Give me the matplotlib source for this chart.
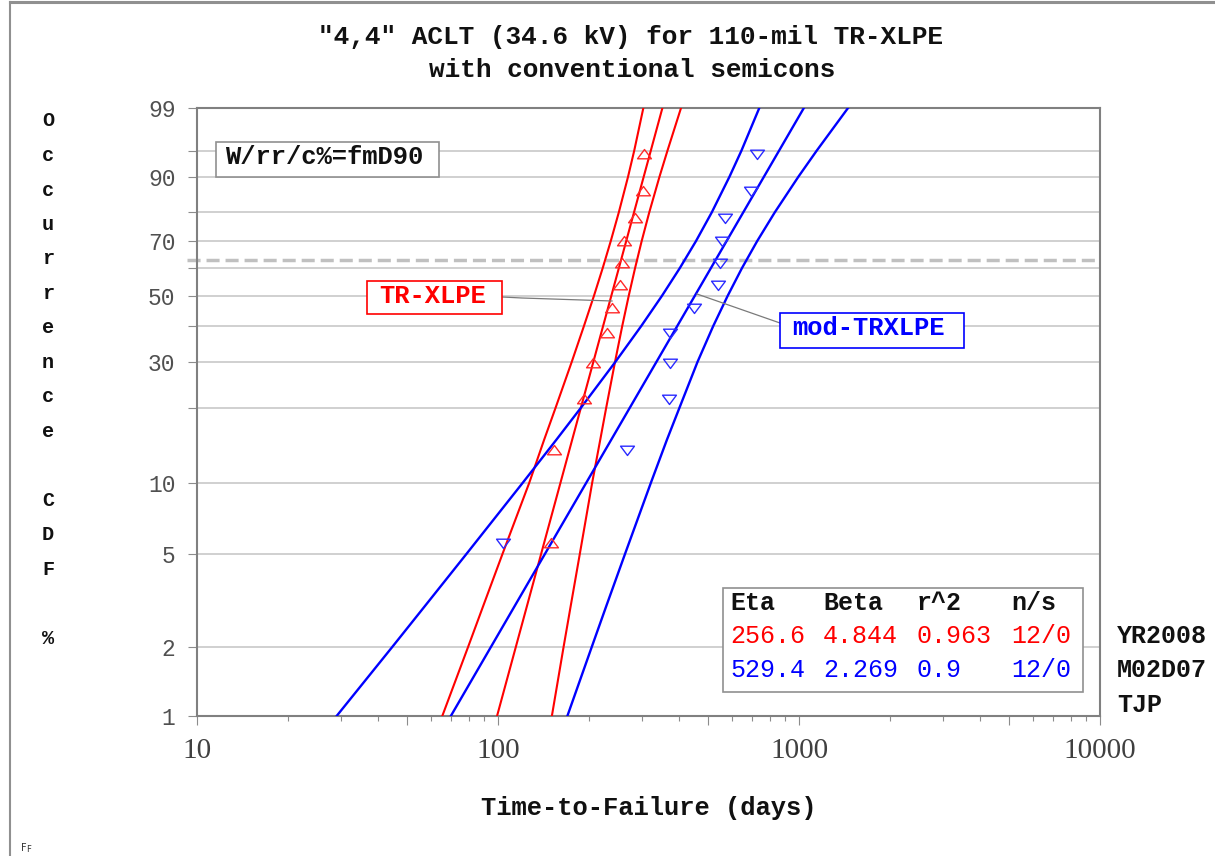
import numpy as np
import matplotlib
matplotlib.use('Agg')
import matplotlib.pyplot as plt
from matplotlib.ticker import FixedLocator, FixedFormatter, NullLocator, NullFormatter
from matplotlib.patches import Rectangle
from matplotlib.lines import Line2D
from matplotlib.path import Path

# ---------------- data ----------------
title_lines = ['"4,4" ACLT (34.6 kV) for 110-mil TR-XLPE', 'with conventional semicons']
x_label = 'Time-to-Failure (days)'
y_label_text = 'Occurrence CDF %'

x_major = [10, 50, 100, 500, 1000, 5000, 10000]
x_major_labels = ['10', '', '100', '', '1000', '', '10000']
x_minor = [20, 30, 40, 60, 70, 80, 90, 200, 300, 400, 600, 700, 800, 900,
           2000, 3000, 4000, 6000, 7000, 8000, 9000]
y_grid = [1, 2, 5, 10, 20, 30, 40, 50, 60, 70, 80, 90, 95, 99]
y_labeled = [1, 2, 5, 10, 30, 50, 70, 90, 99]
char_life_pct = 63.21

series_names = ['TR-XLPE', 'mod-TRXLPE']
rank_pct = [5.6, 13.7, 21.8, 29.8, 37.9, 46.0, 54.0, 62.1, 70.2, 78.2, 86.3, 94.4]
tr_xlpe_days = [150.0, 153.8, 193.5, 207.4, 230.7, 238.6, 254.2, 257.6, 262.8, 285.2, 303.9, 306.2]
mod_days = [104.1, 268.9, 369.9, 372.7, 372.7, 447.9, 539.6, 546.6, 553.7, 567.9, 692.6, 727.0]

eta_tr, beta_tr, r2_tr, ns_tr = 256.6, 4.844, '0.963', '12/0'
eta_mod, beta_mod, r2_mod, ns_mod = 529.4, 2.269, '0.9', '12/0'

bound_pct = [1, 2, 3, 5, 10, 15, 20, 30, 40, 50, 60, 70, 80, 90, 95, 99]
tr_lower = [65.3, 79.6, 89.3, 103.4, 127.0, 142.3, 155.1, 175.8, 192.9, 208.3, 222.7, 236.9, 252.0, 270.4, 283.5, 304.0]
tr_upper = [151.0, 165.2, 174.4, 186.9, 205.5, 218.6, 228.6, 244.8, 258.6, 271.8, 285.3, 300.1, 318.1, 343.9, 365.6, 405.5]
mod_lower = [29.1, 44.6, 57.2, 78.4, 120.8, 156.2, 187.9, 245.5, 298.9, 350.4, 401.6, 454.7, 513.2, 587.4, 643.8, 738.0]
mod_upper = [170.0, 205.0, 229.0, 264.0, 322.0, 364.0, 400.0, 460.2, 518.6, 579.3, 646.1, 726.1, 831.0, 995.0, 1145.0, 1455.0]

stamp = ['YR2008', 'M02D07', 'TJP']
method_label = 'W/rr/c%=fmD90'

# ---------------- layout ----------------
W, H, DPI = 1215, 856, 100
RED, BLUE = '#ff0000', '#0000ff'
GRAY = '#8c8c8c'
MONO = 'Liberation Mono'
plt.rcParams['lines.scale_dashes'] = False

def fx(x):
    return x / W

def fy(y):
    return 1 - y / H

fig = plt.figure(figsize=(W / DPI, H / DPI), dpi=DPI, facecolor='white')
ax_l, ax_r, ax_t, ax_b = 197, 1100, 108, 716
ax = fig.add_axes([fx(ax_l), fy(ax_b), (ax_r - ax_l) / W, (ax_b - ax_t) / H])


def fwd(p):
    p = np.clip(np.asarray(p, dtype=float), 1e-9, 100 - 1e-9)
    return np.log(-np.log(1 - p / 100.0))


def inv(y):
    return 100.0 * (1 - np.exp(-np.exp(np.asarray(y, dtype=float))))


ax.set_xscale('log')
ax.set_yscale('function', functions=(fwd, inv))
ax.set_xlim(10, 10000)
ax.set_ylim(1, 99)

# ticks
ax.xaxis.set_major_locator(FixedLocator(x_major))
ax.xaxis.set_major_formatter(FixedFormatter(x_major_labels))
ax.xaxis.set_minor_locator(FixedLocator(x_minor))
ax.xaxis.set_minor_formatter(NullFormatter())
ax.yaxis.set_major_locator(FixedLocator(y_grid))
ax.yaxis.set_major_formatter(FixedFormatter([str(v) if v in y_labeled else '' for v in y_grid]))
ax.yaxis.set_minor_locator(NullLocator())

ax.tick_params(axis='x', which='major', length=6.5, width=0.8, color=GRAY, pad=9,
               labelsize=21, labelcolor='#404040')
ax.tick_params(axis='x', which='minor', length=3.6, width=0.8, color=GRAY)
ax.tick_params(axis='y', which='major', length=6.5, width=0.8, color=GRAY, pad=9,
               labelsize=16.5, labelcolor='#505050')
for lab in ax.get_xticklabels():
    lab.set_fontfamily('Liberation Serif')
for lab in ax.get_yticklabels():
    lab.set_fontfamily(MONO)

ax.grid(axis='y', color='#c8c8c8', lw=1.2)
ax.grid(axis='x', visible=False)
ax.set_axisbelow(True)
for s in ax.spines.values():
    s.set_color('#808080')
    s.set_linewidth(1.5)

# characteristic-life dashed line
ax.axhline(char_life_pct, xmin=-0.011, xmax=1.0, clip_on=False, color='#c0c0c0',
           lw=2.5, dashes=(9.4, 4.3), zorder=1.5)

# fitted Weibull lines and confidence bounds
def weibull_t(eta, beta, pct):
    p = np.asarray(pct, dtype=float) / 100.0
    return eta * (-np.log(1 - p)) ** (1.0 / beta)

ax.plot(weibull_t(eta_tr, beta_tr, bound_pct), bound_pct, color=RED, lw=1.5, zorder=3)
ax.plot(tr_lower, bound_pct, color=RED, lw=1.5, zorder=3)
ax.plot(tr_upper, bound_pct, color=RED, lw=1.5, zorder=3)
ax.plot(weibull_t(eta_mod, beta_mod, bound_pct), bound_pct, color=BLUE, lw=1.7, zorder=3)
ax.plot(mod_lower, bound_pct, color=BLUE, lw=1.7, zorder=3)
ax.plot(mod_upper, bound_pct, color=BLUE, lw=1.7, zorder=3)

up_tri = Path([(-1, -0.62), (1, -0.62), (0, 0.72), (-1, -0.62)],
              [Path.MOVETO, Path.LINETO, Path.LINETO, Path.CLOSEPOLY])
dn_tri = Path([(-1, 0.62), (1, 0.62), (0, -0.72), (-1, 0.62)],
              [Path.MOVETO, Path.LINETO, Path.LINETO, Path.CLOSEPOLY])
ax.plot(tr_xlpe_days, rank_pct, ls='none', marker=up_tri, ms=10, mfc='none',
        mec='#ff2a2a', mew=1.0, zorder=4)
ax.plot(mod_days, rank_pct, ls='none', marker=dn_tri, ms=10, mfc='none',
        mec='#2a2aff', mew=1.0, zorder=4)

# ---------------- figure decorations ----------------
fig.add_artist(Line2D([fx(10), fx(W)], [fy(2), fy(2)], color='#909090', lw=2.2))
fig.add_artist(Line2D([fx(10), fx(10)], [fy(2), fy(H)], color='#909090', lw=1.5))

fig.text(fx(630), fy(37), title_lines[0], ha='center', va='center', fontsize=18.8,
         fontweight='bold', family=MONO, color='#111111')
fig.text(fx(632), fy(70), title_lines[1], ha='center', va='center', fontsize=18.8,
         fontweight='bold', family=MONO, color='#111111')
fig.text(fx(649), fy(808), x_label, ha='center', va='center', fontsize=18.4,
         fontweight='bold', family=MONO, color='#111111')

# vertical stacked y label
letters = list(y_label_text)
for i, ch in enumerate(letters):
    if ch == ' ':
        continue
    fig.text(fx(48), fy(121 + i * 34.5), ch, ha='center', va='center', fontsize=14.5,
             fontweight='bold', family=MONO, color='#111111')

def box(x0, y0, x1, y1, ec, lw=1.2):
    fig.add_artist(Rectangle((fx(x0), fy(y1)), (x1 - x0) / W, (y1 - y0) / H,
                             transform=fig.transFigure, facecolor='white',
                             edgecolor=ec, lw=lw, zorder=5))

# method box
box(216, 142, 439, 177, '#909090')
fig.text(fx(225), fy(157), method_label, ha='left', va='center', fontsize=18.4,
         fontweight='bold', family=MONO, color='#111111', zorder=6)

# series label boxes + leaders
fig.add_artist(Line2D([fx(502), fx(522), fx(612)], [fy(297), fy(298), fy(301)],
                      color='#7a7a7a', lw=0.9, zorder=4))
box(367, 281, 502, 314, RED)
fig.text(fx(433), fy(296), series_names[0], ha='center', va='center', fontsize=18.4,
         fontweight='bold', family=MONO, color=RED, zorder=6)

fig.add_artist(Line2D([fx(780), fx(697)], [fy(323), fy(294)],
                      color='#7a7a7a', lw=0.9, zorder=4))
box(780, 313, 964, 348, BLUE)
fig.text(fx(868), fy(328), series_names[1], ha='center', va='center', fontsize=18.4,
         fontweight='bold', family=MONO, color=BLUE, zorder=6)

# stats box
box(723, 588, 1083, 692, '#909090')
cols = [730, 823, 917, 1011]
rows = [603, 636, 670]
header = ['Eta', 'Beta', 'r^2', 'n/s']
row_tr = [f'{eta_tr:.1f}', f'{beta_tr:.3f}', r2_tr, ns_tr]
row_mod = [f'{eta_mod:.1f}', f'{beta_mod:.3f}', r2_mod, ns_mod]
for c, h in zip(cols, header):
    fig.text(fx(c), fy(rows[0]), h, ha='left', va='center', fontsize=18,
             fontweight='bold', family=MONO, color='#111111', zorder=6)
for c, v in zip(cols, row_tr):
    fig.text(fx(c), fy(rows[1]), v, ha='left', va='center', fontsize=18,
             family=MONO, color=RED, zorder=6)
for c, v in zip(cols, row_mod):
    fig.text(fx(c), fy(rows[2]), v, ha='left', va='center', fontsize=18,
             family=MONO, color=BLUE, zorder=6)

for s, yy in zip(stamp, [636, 670, 705]):
    fig.text(fx(1117), fy(yy), s, ha='left', va='center', fontsize=18,
             fontweight='bold', family=MONO, color='#111111')

fig.text(fx(21), fy(848), 'F', ha='left', va='center', fontsize=7, color='#333333')
fig.text(fx(26), fy(850), 'F', ha='left', va='center', fontsize=6, color='#333333')

fig.savefig('out.png', dpi=DPI, facecolor='white')
